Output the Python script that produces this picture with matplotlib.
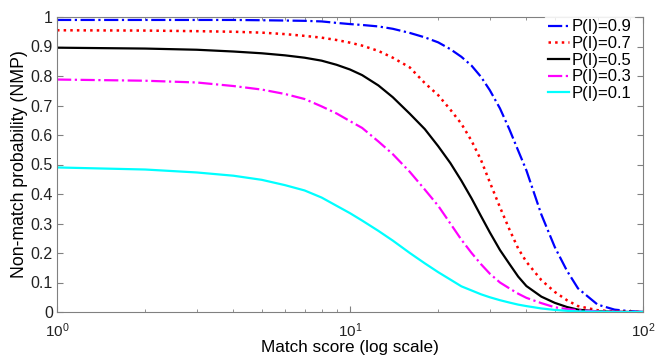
import matplotlib
matplotlib.use("Agg")
import matplotlib.pyplot as plt
from matplotlib.ticker import LogLocator, FixedLocator

plt.rcParams['font.family'] = ['Liberation Sans', 'DejaVu Sans']
plt.rcParams['mathtext.fontset'] = 'custom'
plt.rcParams['mathtext.rm'] = 'Liberation Sans'
plt.rcParams['mathtext.it'] = 'Liberation Sans'

# match score samples
score = [1, 2, 3, 4, 5, 6, 7, 8, 9, 10, 11, 12.5, 14, 16, 18, 20, 22, 24, 26, 28, 30,
         32.5, 35, 37.5, 40, 45, 50, 55, 60, 70, 80, 90, 100]

nmp_09 = [0.99, 0.99, 0.99, 0.99, 0.989, 0.988, 0.987, 0.985, 0.98, 0.976, 0.973, 0.968, 0.96,
          0.946, 0.931, 0.914, 0.891, 0.865, 0.835, 0.797, 0.752, 0.69, 0.619, 0.547, 0.48,
          0.33, 0.22, 0.14, 0.08, 0.025, 0.008, 0.003, 0.0]
nmp_07 = [0.955, 0.954, 0.952, 0.95, 0.947, 0.942, 0.936, 0.93, 0.922, 0.913, 0.903, 0.885, 0.862,
          0.829, 0.776, 0.735, 0.686, 0.638, 0.58, 0.515, 0.44, 0.355, 0.28, 0.215, 0.17,
          0.108, 0.068, 0.04, 0.02, 0.006, 0.002, 0.001, 0.0]
nmp_05 = [0.896, 0.893, 0.889, 0.883, 0.877, 0.87, 0.862, 0.852, 0.838, 0.822, 0.803, 0.768, 0.728,
          0.672, 0.62, 0.562, 0.505, 0.445, 0.385, 0.325, 0.27, 0.21, 0.163, 0.12, 0.088,
          0.052, 0.031, 0.017, 0.008, 0.002, 0.001, 0.0, 0.0]
nmp_03 = [0.788, 0.784, 0.778, 0.766, 0.754, 0.739, 0.722, 0.697, 0.673, 0.647, 0.624, 0.578, 0.535,
          0.475, 0.415, 0.36, 0.30, 0.245, 0.2, 0.162, 0.13, 0.10, 0.08, 0.062, 0.048,
          0.03, 0.016, 0.01, 0.006, 0.002, 0.001, 0.0, 0.0]
nmp_01 = [0.49, 0.483, 0.473, 0.462, 0.448, 0.43, 0.412, 0.388, 0.36, 0.335, 0.31, 0.275, 0.242,
          0.20, 0.165, 0.135, 0.11, 0.087, 0.073, 0.06, 0.05, 0.04, 0.032, 0.025, 0.02,
          0.012, 0.007, 0.004, 0.002, 0.001, 0.0, 0.0, 0.0]

labels = ['P(I)=0.9', 'P(I)=0.7', 'P(I)=0.5', 'P(I)=0.3', 'P(I)=0.1']

fig = plt.figure(figsize=(6.68, 3.56), dpi=100)
ax = fig.add_axes([57 / 668, 44 / 356, 586 / 668, 295 / 356])

ax.plot(score, nmp_09, color='blue', linestyle='-.', lw=1.6, label=labels[0])
ax.plot(score, nmp_07, color='red', linestyle=':', lw=1.8, label=labels[1])
ax.plot(score, nmp_05, color='black', linestyle='-', lw=1.6, label=labels[2])
ax.plot(score, nmp_03, color='magenta', linestyle='-.', lw=1.6, label=labels[3])
ax.plot(score, nmp_01, color='cyan', linestyle='-', lw=1.6, label=labels[4])

ax.set_xscale('log')
ax.set_xlim(1, 100)
ax.set_ylim(0, 1)
ax.yaxis.set_major_locator(FixedLocator([i / 10 for i in range(11)]))
ax.set_yticklabels(['0', '0.1', '0.2', '0.3', '0.4', '0.5', '0.6', '0.7', '0.8', '0.9', '1'])
ax.xaxis.set_minor_locator(LogLocator(base=10, subs=(2, 3, 4, 5, 6, 7, 8, 9)))

ax.tick_params(which='both', direction='in', top=True, right=True, colors='#808080',
               labelcolor='#222222', labelsize=11.5)
ax.tick_params(which='major', length=4)
ax.tick_params(which='minor', length=2)
ax.tick_params(axis='x', pad=7, labelsize=11)
ax.tick_params(axis='y', pad=3)
for s in ax.spines.values():
    s.set_color('#808080')

ax.set_xlabel('Match score (log scale)', fontsize=12.3, labelpad=0)
ax.set_ylabel('Non-match probability (NMP)', fontsize=12.7, labelpad=2)

leg = ax.legend(loc='upper right', bbox_to_anchor=(0.985, 1.0), fontsize=12, frameon=True,
                fancybox=False, borderpad=0.15, labelspacing=0.1, handlelength=1.3,
                handletextpad=0.15, borderaxespad=0)
leg.get_frame().set_edgecolor('white')

fig.savefig('out.png', dpi=100)
